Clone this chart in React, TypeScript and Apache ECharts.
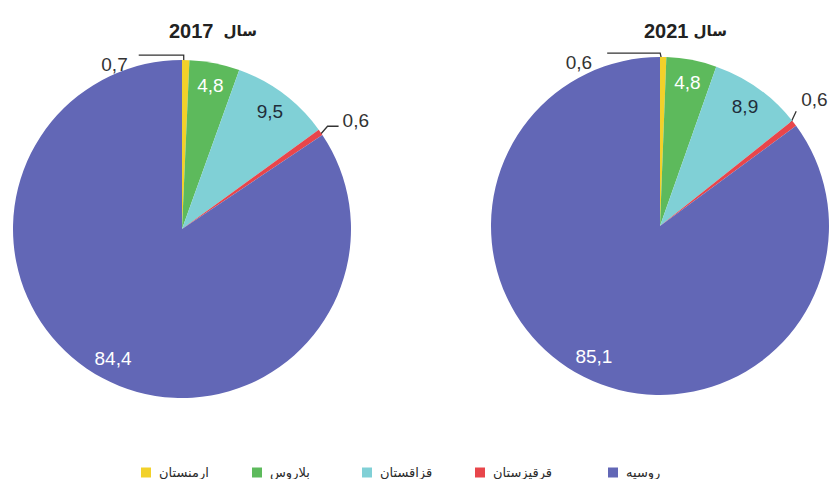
import React, { useEffect, useRef } from "react";
import * as echarts from "echarts";

const countries = ["ارمنستان", "بلاروس", "قزاقستان", "قرقیزستان", "روسیه"];
const colors = ["#f2d12a", "#5dba5c", "#80d0d6", "#e8464b", "#6267b6"];
const values2017 = [0.7, 4.8, 9.5, 0.6, 84.4];
const values2021 = [0.6, 4.8, 8.9, 0.6, 85.1];
const years = ["2017", "2021"];
const yearWord = "سال";
const insideLabelColors = ["#ffffff", "#ffffff", "#1f2d3a", "#333333", "#ffffff"];
const outsideIdx = [0, 3];

const fmt = (v: number) => String(v).replace(".", ",");

export default function App() {
  const ref = useRef<HTMLDivElement>(null);
  useEffect(() => {
    if (!ref.current) return;
    const chart = echarts.init(ref.current, null, { renderer: "svg" });
    const centers = [
      [182, 229],
      [660, 226],
    ];
    const R = 169;
    const labelFont = { fontFamily: "Liberation Sans", fontSize: 19 };

    // per-series placement of outside labels (offsets from slice edge point)
    const outside: any = {
      0: {
        0: { pts: [[-2, 3], [-2, -5], [-47, -5]], x: -58, y: 4, align: "right" },
        3: { pts: [[0, 2], [7, -6], [18, -6]], x: 22, y: -12, align: "left" },
      },
      1: {
        0: { pts: [[-1, 5], [-3, -4], [-56, -4]], x: -71, y: 5, align: "right" },
        3: { pts: [[-5, 3], [2, -12]], x: 7, y: -24, align: "left" },
      },
    };

    const allValues = [values2017, values2021];
    const series: any[] = [];
    allValues.forEach((vals, si) => {
      series.push({
        type: "pie",
        center: centers[si],
        radius: [0, R],
        startAngle: 90,
        clockwise: true,
        avoidLabelOverlap: false,
        silent: true,
        itemStyle: { borderWidth: 0 },
        data: vals.map((v, i) => ({
          name: countries[i],
          value: v,
          itemStyle: { color: colors[i] },
          label: { show: outsideIdx.includes(i) },
          labelLine: { show: outsideIdx.includes(i) },
        })),
        label: {
          position: "outside",
          formatter: (p: any) => fmt(p.value),
          color: "#333333",
          ...labelFont,
        },
        labelLine: { length: 8, length2: 10, lineStyle: { color: "#333333", width: 1.3 } },
        labelLayout: (p: any) => {
          const cfg = outside[si][p.dataIndex];
          if (!cfg || !p.labelLinePoints) return {};
          const [x0, y0] = p.labelLinePoints[0];
          return {
            x: x0 + cfg.x,
            y: y0 + cfg.y,
            align: cfg.align,
            verticalAlign: "middle",
            labelLinePoints: cfg.pts.map((q: number[]) => [x0 + q[0], y0 + q[1]]),
          };
        },
      });
      // transparent ring used only to place the inside labels
      series.push({
        type: "pie",
        center: centers[si],
        radius: [118, R],
        startAngle: 90,
        clockwise: true,
        avoidLabelOverlap: false,
        silent: true,
        itemStyle: { color: "transparent", borderWidth: 0 },
        data: vals.map((v, i) => ({
          name: countries[i],
          value: v,
          itemStyle: { color: "transparent" },
          label: { show: !outsideIdx.includes(i), color: insideLabelColors[i] },
        })),
        label: {
          position: "inside",
          formatter: (p: any) => fmt(p.value),
          ...labelFont,
        },
        labelLine: { show: false },
      });
    });

    const legendLefts = [136, 247, 357, 470, 603];
    const legends = countries.map((c, i) => ({
      left: legendLefts[i],
      top: 461,
      itemWidth: 10,
      itemHeight: 10,
      icon: "rect",
      selectedMode: false,
      data: [{ name: c, itemStyle: { color: colors[i] } }],
      textStyle: { fontFamily: "DejaVu Sans", fontSize: 13, color: "#2a2a2a", padding: [0, 0, 0, 3] },
    }));

    const titleLefts = [164, 639];
    const gaps = ["  ", " "];
    const titles = years.map((y, i) => ({
      text: `{y|${y}}${gaps[i]}{s|${yearWord}}`,
      left: titleLefts[i],
      top: 16,
      textStyle: {
        rich: {
          y: { fontFamily: "Liberation Sans", fontWeight: "bold", fontSize: 20, color: "#222222" },
          s: { fontFamily: "DejaVu Sans", fontSize: 15, color: "#222222" },
        },
      },
    }));

    chart.setOption({
      animation: false,
      backgroundColor: "#ffffff",
      title: titles,
      legend: legends,
      series,
    });
    return () => chart.dispose();
  }, []);
  return (
    <div
      ref={ref}
      style={{ position: "fixed", left: 0, top: 0, width: 830, height: 479 }}
    />
  );
}
